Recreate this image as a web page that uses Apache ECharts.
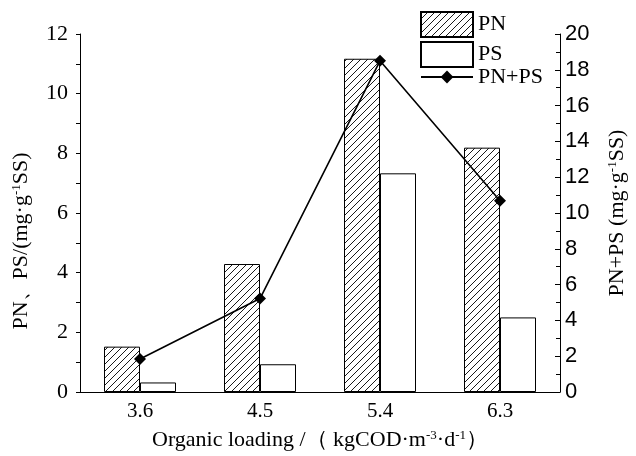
<!DOCTYPE html>
<html>
<head>
<meta charset="utf-8">
<script src="https://cdn.jsdelivr.net/npm/echarts@6/dist/echarts.min.js"></script>
<style>html,body{margin:0;padding:0;background:#fff}#c{width:636px;height:456px}</style>
</head>
<body>
<div id="c"></div>
<script>
const categories = ['3.6', '4.5', '5.4', '6.3'];
const pnValues = [1.52, 4.29, 11.17, 8.19];
const psValues = [0.32, 0.93, 7.33, 2.50];
const sumValues = [1.84, 5.22, 18.50, 10.69];
const leftTicks = [0, 2, 4, 6, 8, 10, 12];
const rightTicks = [0, 2, 4, 6, 8, 10, 12, 14, 16, 18, 20];

const SERIF = '"Liberation Serif", "Times New Roman", serif';
const SANS = '"Liberation Sans", Arial, sans-serif';

function hatch() {
  const s = 7;
  const cv = document.createElement('canvas');
  cv.width = s; cv.height = s;
  const ctx = cv.getContext('2d');
  ctx.fillStyle = '#fff';
  ctx.fillRect(0, 0, s, s);
  ctx.strokeStyle = '#000';
  ctx.lineWidth = 0.9;
  ctx.beginPath();
  ctx.moveTo(-1, s + 1); ctx.lineTo(s + 1, -1);
  ctx.moveTo(-1, 1); ctx.lineTo(1, -1);
  ctx.moveTo(s - 1, s + 1); ctx.lineTo(s + 1, s - 1);
  ctx.stroke();
  return cv;
}

const chart = echarts.init(document.getElementById('c'), null, {renderer: 'canvas'});
const supStyle = {fontSize: 13, fontFamily: SERIF, color: '#000', verticalAlign: 'top', lineHeight: 14};
const legendText = {fontFamily: SERIF, fontSize: 22, color: '#000'};
chart.setOption({
  animation: false,
  backgroundColor: '#fff',
  grid: {left: 80, right: 73, top: 34, bottom: 64},
  legend: [{
    orient: 'vertical', left: 420, top: 11, padding: 0,
    itemWidth: 52, itemHeight: 25, itemGap: 3,
    textStyle: legendText,
    data: [{name: 'PN', icon: 'rect'}, {name: 'PS', icon: 'rect'}]
  }, {
    orient: 'vertical', left: 420, top: 66, padding: 0,
    itemWidth: 52, itemHeight: 16,
    textStyle: legendText,
    data: [{name: 'PN+PS'}]
  }],
  xAxis: [{
    type: 'category', data: categories, position: 'bottom',
    axisLine: {lineStyle: {color: '#000', width: 1}},
    axisTick: {alignWithLabel: true, length: 5, lineStyle: {color: '#000'}},
    axisLabel: {fontFamily: SERIF, fontSize: 21, color: '#000', margin: 9},
    name: 'Organic loading /（ kgCOD·m{sup|-3}·d{sup|-1}）',
    nameLocation: 'middle', nameGap: 37,
    nameTextStyle: {fontFamily: SERIF, fontSize: 22, color: '#000', rich: {sup: supStyle}}
  }, {
    type: 'category', data: categories, position: 'bottom',
    axisLine: {show: false},
    axisTick: {length: 3, lineStyle: {color: '#000'}},
    axisLabel: {show: false}
  }],
  yAxis: [{
    type: 'value', min: 0, max: 12, interval: 2, position: 'left',
    axisLine: {show: true, lineStyle: {color: '#000'}},
    axisTick: {show: true, length: 4, lineStyle: {color: '#000'}},
    minorTick: {show: true, splitNumber: 2, length: 4, lineStyle: {color: '#000'}},
    splitLine: {show: false},
    axisLabel: {fontFamily: SERIF, fontSize: 22, color: '#000', margin: 12,
      customValues: leftTicks},
    name: 'PN、PS/(mg·g{sup|-1}SS)', nameLocation: 'middle', nameRotate: 90, nameGap: 48,
    nameTextStyle: {fontFamily: SERIF, fontSize: 22, color: '#000', padding: [0, 56, 0, 0], rich: {sup: supStyle}}
  }, {
    type: 'value', min: 0, max: 20, interval: 2, position: 'right',
    axisLine: {show: true, lineStyle: {color: '#000'}},
    axisTick: {show: true, inside: true, length: 5, lineStyle: {color: '#000'}},
    minorTick: {show: true, splitNumber: 2, length: 4, lineStyle: {color: '#000'}},
    splitLine: {show: false},
    axisLabel: {fontFamily: SANS, fontSize: 22, color: '#000', margin: 5,
      customValues: rightTicks},
    name: 'PN+PS (mg·g{sup|-1}SS)', nameLocation: 'middle', nameRotate: 90, nameGap: 46,
    nameTextStyle: {fontFamily: SERIF, fontSize: 22, color: '#000', rich: {sup: supStyle}}
  }],
  series: [{
    name: 'PN', type: 'bar', xAxisIndex: 0, yAxisIndex: 0, data: pnValues,
    barWidth: 36, barGap: '0%',
    itemStyle: {color: {image: hatch(), repeat: 'repeat'}, borderColor: '#000', borderWidth: 1}
  }, {
    name: 'PS', type: 'bar', xAxisIndex: 0, yAxisIndex: 0, data: psValues,
    barWidth: 36, barGap: '0%',
    itemStyle: {color: '#fff', borderColor: '#000', borderWidth: 1}
  }, {
    name: 'PN+PS', type: 'line', xAxisIndex: 0, yAxisIndex: 1, data: sumValues,
    symbol: 'diamond', symbolSize: 12, z: 5,
    itemStyle: {color: '#000'},
    lineStyle: {color: '#000', width: 1.6}
  }]
});
</script>
</body>
</html>
